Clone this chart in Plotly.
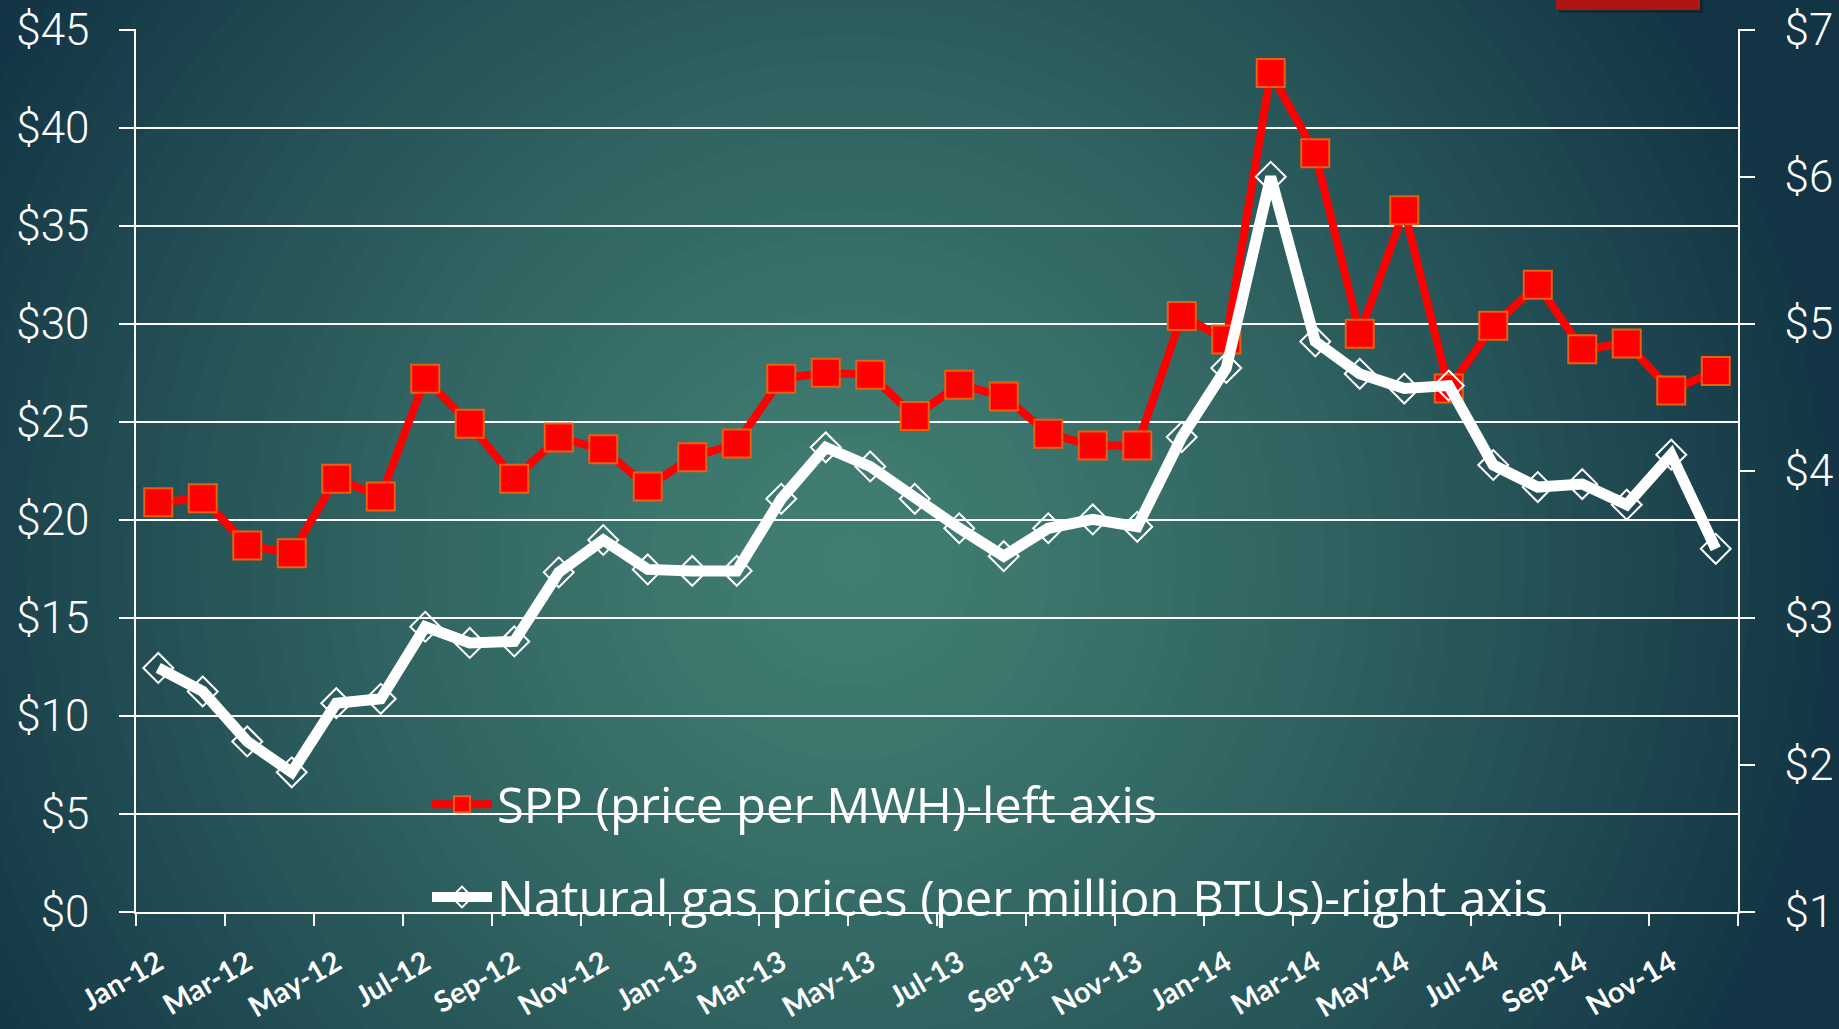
import plotly.graph_objects as go

# ---------------- data ----------------
months = ["Jan-12", "Feb-12", "Mar-12", "Apr-12", "May-12", "Jun-12",
          "Jul-12", "Aug-12", "Sep-12", "Oct-12", "Nov-12", "Dec-12",
          "Jan-13", "Feb-13", "Mar-13", "Apr-13", "May-13", "Jun-13",
          "Jul-13", "Aug-13", "Sep-13", "Oct-13", "Nov-13", "Dec-13",
          "Jan-14", "Feb-14", "Mar-14", "Apr-14", "May-14", "Jun-14",
          "Jul-14", "Aug-14", "Sep-14", "Oct-14", "Nov-14", "Dec-14"]

spp_price = [20.9, 21.1, 18.7, 18.3, 22.1, 21.2,
             27.2, 24.9, 22.1, 24.2, 23.6, 21.7,
             23.2, 23.9, 27.2, 27.5, 27.4, 25.3,
             26.9, 26.3, 24.4, 23.8, 23.8, 30.4,
             29.2, 42.8, 38.7, 29.5, 35.8, 26.7,
             29.9, 32.0, 28.7, 29.0, 26.6, 27.6]

gas_price = [2.66, 2.50, 2.16, 1.95, 2.42, 2.45,
             2.94, 2.83, 2.84, 3.31, 3.53, 3.33,
             3.32, 3.32, 3.81, 4.16, 4.03, 3.81,
             3.61, 3.42, 3.61, 3.67, 3.62, 4.23,
             4.70, 6.00, 4.88, 4.66, 4.56, 4.58,
             4.04, 3.89, 3.91, 3.77, 4.11, 3.47]

left_ticks = [0, 5, 10, 15, 20, 25, 30, 35, 40, 45]
left_labels = ["$0", "$5", "$10", "$15", "$20", "$25", "$30", "$35", "$40", "$45"]
right_ticks = [1, 2, 3, 4, 5, 6, 7]
right_labels = ["$1", "$2", "$3", "$4", "$5", "$6", "$7"]

spp_name = "SPP (price per MWH)-left axis"
gas_name = "Natural gas prices (per million BTUs)-right axis"

# ---------------- layout geometry ----------------
W, H = 1839, 1029
ML, MR, MT, MB = 136, 101, 29, 117
PW, PH = W - ML - MR, H - MT - MB


def px_x(px):
    return (px - ML) / PW


def px_y(py):
    return (H - MB - py) / PH


# radial background gradient made of stacked ellipses
inner = (0x41, 0x7e, 0x72)
outer = (0x12, 0x34, 0x44)
cx, cy = 850, 560
rmax = 1000
steps = 40
shapes = []
for i in range(steps):
    r = rmax * (steps - i) / steps
    t = ((steps - i - 0.5) / steps) ** 1.3
    col = tuple(int(round(inner[k] + (outer[k] - inner[k]) * t)) for k in range(3))
    shapes.append(dict(type="circle", xref="paper", yref="paper", layer="below",
                       x0=px_x(cx - r), x1=px_x(cx + r),
                       y0=px_y(cy + r), y1=px_y(cy - r),
                       fillcolor="rgb(%d,%d,%d)" % col, line=dict(width=0)))

# red bar at the top right (slide decoration)
shapes.append(dict(type="rect", xref="paper", yref="paper", layer="above",
                   x0=px_x(1559), x1=px_x(1703), y0=px_y(13), y1=px_y(-2),
                   fillcolor="rgba(0,0,0,0.25)", line=dict(width=0)))
shapes.append(dict(type="rect", xref="paper", yref="paper", layer="above",
                   x0=px_x(1556), x1=px_x(1700), y0=px_y(10), y1=px_y(-2),
                   fillcolor="#b01515", line=dict(width=0)))

fig = go.Figure()

fig.add_trace(go.Scatter(
    x=months, y=spp_price, name=spp_name, mode="lines+markers",
    legendgroup="spp",
    line=dict(color="#ff0000", width=8),
    marker=dict(symbol="square", size=28, color="#ff0000",
                line=dict(color="#e8600f", width=2)),
    yaxis="y"))

fig.add_trace(go.Scatter(
    x=months, y=gas_price, name=gas_name, mode="lines+markers",
    legendgroup="gas",
    line=dict(color="#ffffff", width=11),
    marker=dict(symbol="diamond-open", size=23, color="#ffffff",
                line=dict(width=2)),
    yaxis="y2"))

tick_font_y = dict(family="Roboto", size=44, color="white", weight=300)

# tiny headroom so the top gridline is drawn
pad = 0.04
fig.update_layout(
    width=W, height=H,
    margin=dict(l=ML, r=MR, t=MT, b=MB, autoexpand=False),
    paper_bgcolor="#123444",
    plot_bgcolor="rgba(0,0,0,0)",
    shapes=shapes,
    showlegend=True,
    legend=dict(x=px_x(427), y=px_y(766), xanchor="left", yanchor="top",
                bgcolor="rgba(0,0,0,0)", borderwidth=0,
                font=dict(family="Open Sans", size=49, color="white"),
                traceorder="grouped", tracegroupgap=26, itemwidth=60),
    xaxis=dict(type="category", range=[-0.5, len(months) - 0.5],
               tickmode="linear", tick0=0, dtick=2,
               tickson="boundaries",
               showgrid=False, zeroline=False,
               showline=True, linecolor="white", linewidth=1.5,
               ticks="outside", ticklen=12, tickcolor="white", tickwidth=1.5,
               tickangle=-30, ticklabelstandoff=21,
               tickfont=dict(family="Lato", size=29, color="white", weight="bold")),
    yaxis=dict(range=[left_ticks[0], left_ticks[-1] + pad],
               tickmode="array", tickvals=left_ticks, ticktext=left_labels,
               showgrid=True, gridcolor="white", gridwidth=1.5,
               zeroline=False, showline=True, linecolor="white", linewidth=1.5,
               ticks="outside", ticklen=15, tickcolor="white", tickwidth=1.5,
               ticklabelstandoff=21, tickfont=tick_font_y),
    yaxis2=dict(range=[right_ticks[0], right_ticks[-1] + pad * 6 / 45],
                tickmode="array", tickvals=right_ticks, ticktext=right_labels,
                overlaying="y", side="right",
                showgrid=False, zeroline=False,
                showline=True, linecolor="white", linewidth=1.5,
                ticks="outside", ticklen=15, tickcolor="white", tickwidth=1.5,
                ticklabelstandoff=21, tickfont=tick_font_y),
)

fig.write_html("out.html",
               config={"displayModeBar": False},
               post_script="document.body.style.margin='0';"
                           "document.body.style.overflow='hidden';")
